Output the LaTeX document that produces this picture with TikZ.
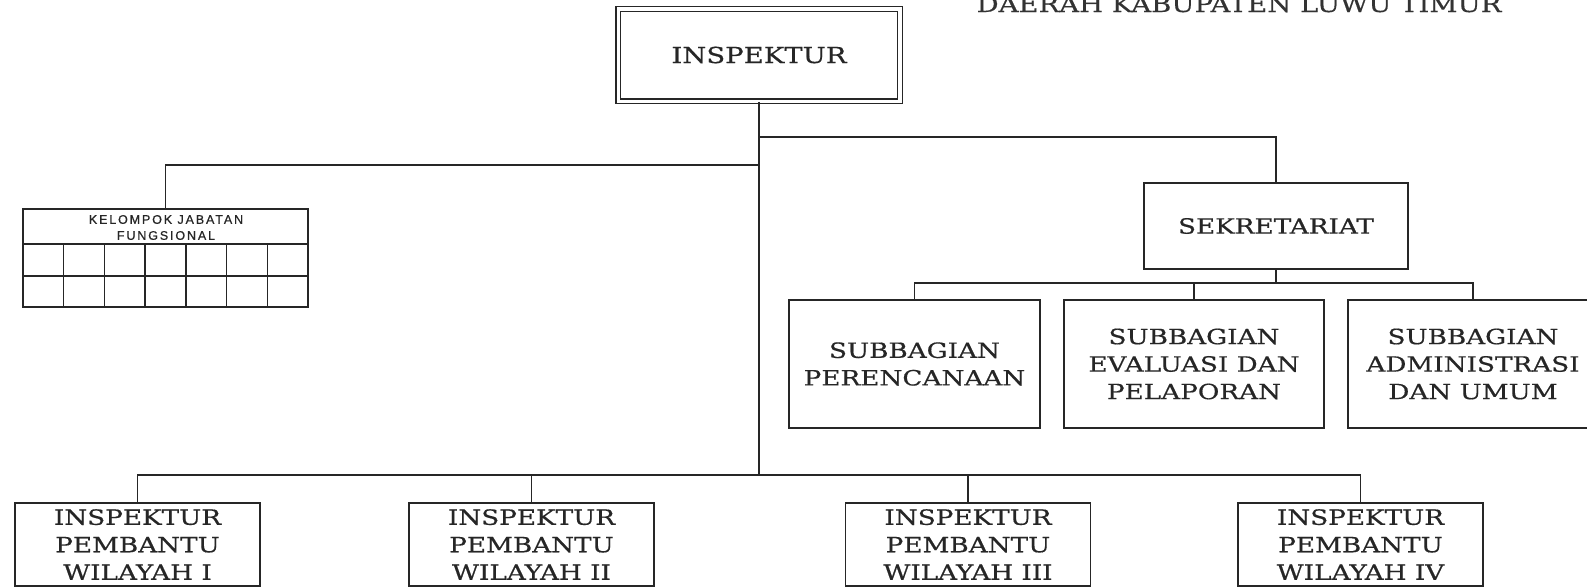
\documentclass[tikz,border=0pt]{standalone}
\usepackage{fontspec}
\newfontfamily\serfont[FakeStretch=1.25, FakeBold=0.6]{DejaVu Serif}
\newfontfamily\kjffont[LetterSpace=15, FakeBold=0.8]{Liberation Sans}
\begin{document}
\begin{tikzpicture}[x=1pt,y=-1pt,
  ln/.style={line width=1.4pt, draw=black!85},
  box/.style={draw=black!85, line width=1.4pt, rectangle, inner sep=0pt, align=center,
    text=black!85, font=\serfont\fontsize{21}{27.5}\selectfont},
  topbox/.style={box, double=white, double distance=3.5pt, line width=1.1pt,
    font=\serfont\fontsize{22}{28}\selectfont},
  ipbox/.style={box, minimum width=245pt, minimum height=83pt},
  sbbox/.style={box, minimum height=128pt},
  kjfbox/.style={draw=black!85, line width=1.4pt, rectangle, inner sep=0pt,
    minimum width=285pt, minimum height=98pt},
  kjftext/.style={align=center, inner sep=0pt, text=black!85,
    font=\kjffont\fontsize{12.5}{16}\selectfont}
]
\useasboundingbox (0,0) rectangle (1587,587);

% header text (cut off at the top, as in the reference)
\node[anchor=base, inner sep=0pt, text=black!80, font=\serfont\fontsize{22}{28}\selectfont]
  (hdr) at (1239,12) {DAERAH KABUPATEN LUWU TIMUR};

% nodes
\node[topbox, minimum width=281.5pt, minimum height=92.5pt] (insp) at (759,55) {INSPEKTUR};
\node[kjfbox] (kjf) at (165.5,258) {};
\node[kjftext] (kjft) at (166,227.5) {KELOMPOK JABATAN\\FUNGSIONAL};
\node[box, minimum width=264pt, minimum height=86pt] (sek) at (1276,226) {SEKRETARIAT};
\node[sbbox, minimum width=251pt] (sb1) at (914.5,364) {SUBBAGIAN\\PERENCANAAN};
\node[sbbox, minimum width=260pt] (sb2) at (1194,364) {SUBBAGIAN\\EVALUASI DAN\\PELAPORAN};
\node[sbbox, minimum width=250pt] (sb3) at (1473,364) {SUBBAGIAN\\ADMINISTRASI\\DAN UMUM};
\node[ipbox] (ip1) at (137.5,544.5) {INSPEKTUR\\PEMBANTU\\WILAYAH I};
\node[ipbox] (ip2) at (531.5,544.5) {INSPEKTUR\\PEMBANTU\\WILAYAH II};
\node[ipbox] (ip3) at (968,544.5) {INSPEKTUR\\PEMBANTU\\WILAYAH III};
\node[ipbox] (ip4) at (1360.5,544.5) {INSPEKTUR\\PEMBANTU\\WILAYAH IV};

% table grid of the functional group
\draw[ln] (23,244) -- (308,244);
\draw[ln] (23,276) -- (308,276);
\foreach \k in {1,...,6} {
  \draw[ln] ({23+40.714*\k},244) -- ({23+40.714*\k},307);
}

% levels
\coordinate (yr) at (0,137);
\coordinate (yl) at (0,165);
\coordinate (ys) at (0,283);
\coordinate (yb) at (0,475);

% connectors
\draw[ln] (insp.south) -- (insp.south |- yb);
\draw[ln] (insp.south |- yl) -| (kjf.north);
\draw[ln] (insp.south |- yr) -| (sek.north);
\draw[ln] (sek.south) -- (sek.south |- ys);
\draw[ln] (sb1.north) |- (sb3.north |- ys) -- (sb3.north);
\draw[ln] (sb2.north) -- (sb2.north |- ys);
\draw[ln] (ip1.north) |- (ip4.north |- yb) -- (ip4.north);
\draw[ln] (ip2.north) -- (ip2.north |- yb);
\draw[ln] (ip3.north) -- (ip3.north |- yb);
\end{tikzpicture}
\end{document}
